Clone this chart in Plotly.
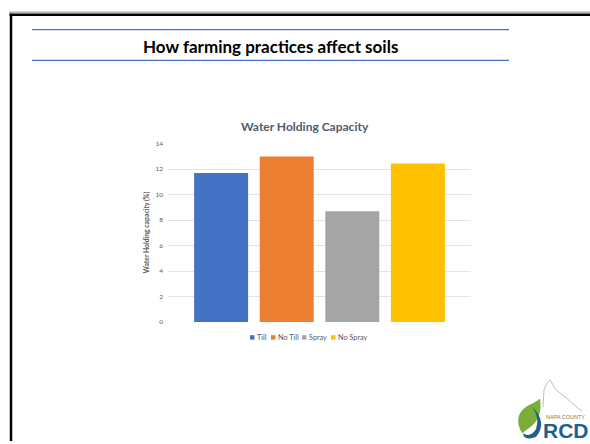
import plotly.graph_objects as go

# Water holding capacity (%) by farming practice
practices = ["Till", "No Till", "Spray", "No Spray"]
capacity = [11.7, 13.0, 8.7, 12.45]
colors = ["#4472C4", "#ED7D31", "#A5A5A5", "#FFC000"]
category = ["Water Holding Capacity"]
y_ticks = [0, 2, 4, 6, 8, 10, 12, 14]

W, H = 590, 444


def px(x):
    return x / W


def py(y):
    return 1 - y / H


fig = go.Figure()
for name, val, col in zip(practices, capacity, colors):
    fig.add_trace(go.Bar(x=category, y=[val], name=name, marker_color=col,
                         marker_line_width=0, showlegend=False))

grey = "#595959"
fig.update_layout(
    width=W, height=H, autosize=False,
    margin=dict(l=0, r=0, t=0, b=0),
    paper_bgcolor="white", plot_bgcolor="white",
    barmode="group", bargap=0.134, bargroupgap=0.177,
    font=dict(family="Lato, sans-serif", color=grey),
    xaxis=dict(domain=[px(168), px(471)], showticklabels=False, showgrid=False,
               zeroline=False, showline=False, fixedrange=True),
    yaxis=dict(domain=[py(323), py(142)], range=[0, 14], tickvals=y_ticks,
               ticktext=[str(t) for t in y_ticks],
               tickfont=dict(size=6.5, color=grey), ticklabelstandoff=4,
               showgrid=True, gridcolor="#E4E4E4", gridwidth=1,
               zeroline=False, showline=False, ticks=""),
)

shapes = []
# slide frame
shapes.append(dict(type="line", xref="paper", yref="paper",
                   x0=px(9), x1=px(590), y0=py(8.3), y1=py(8.3),
                   line=dict(color="#8a8a8a", width=1)))
shapes.append(dict(type="line", xref="paper", yref="paper",
                   x0=px(9.5), x1=px(590), y0=py(11), y1=py(11),
                   line=dict(color="black", width=2.5)))
shapes.append(dict(type="line", xref="paper", yref="paper",
                   x0=px(11), x1=px(11), y0=py(10), y1=py(444),
                   line=dict(color="black", width=2.5)))
# header rules
for yy in (26, 57.3):
    shapes.append(dict(type="line", xref="paper", yref="paper",
                       x0=px(32), x1=px(509), y0=py(yy), y1=py(yy),
                       line=dict(color="#4472C4", width=1.2)))

annotations = [
    dict(text="<b>How farming practices affect soils</b>", x=px(270), y=py(43),
         xref="paper", yref="paper", showarrow=False, xanchor="center", yanchor="middle",
         font=dict(size=17, color="black", family="Lato, sans-serif")),
    dict(text="<b>Water Holding Capacity</b>", x=px(305), y=py(124),
         xref="paper", yref="paper", showarrow=False, xanchor="center", yanchor="middle",
         font=dict(size=12, color="#505A6B")),
    dict(text="<b>Water Holding capacity (%)</b>", x=px(146), y=py(232),
         xref="paper", yref="paper", showarrow=False, textangle=-90,
         xanchor="center", yanchor="middle", font=dict(size=6.8, color=grey)),
]

# legend drawn as small swatches with labels
leg_x = [250, 271, 302, 331]
for name, col, lx in zip(practices, colors, leg_x):
    shapes.append(dict(type="rect", xref="paper", yref="paper",
                       x0=px(lx), x1=px(lx + 4.5), y0=py(341), y1=py(336.5),
                       fillcolor=col, line=dict(width=0)))
    annotations.append(dict(text=name, x=px(lx + 5), y=py(338.8), xref="paper", yref="paper",
                            showarrow=False, xanchor="left", yanchor="middle",
                            font=dict(size=7.3, color=grey)))

# logo: county outline, leaf, swirl and lettering
shapes.append(dict(type="path", xref="paper", yref="paper",
                   path=" ".join([
                       f"M {px(543)} {py(410)}", f"L {px(544)} {py(392)}",
                       f"L {px(547)} {py(385)}", f"L {px(550)} {py(382)}",
                       f"L {px(556)} {py(392)}", f"L {px(566)} {py(400)}",
                       f"L {px(575)} {py(408)}", f"L {px(582)} {py(414)}"]),
                   line=dict(color="#BFBFBF", width=1)))
shapes.append(dict(type="path", xref="paper", yref="paper",
                   path=(f"M {px(522)} {py(436)} Q {px(512)} {py(418)} {px(528)} {py(408)} "
                         f"Q {px(536)} {py(404)} {px(540)} {py(401)} "
                         f"Q {px(543)} {py(420)} {px(530)} {py(430)} Z"),
                   fillcolor="#7AAE3B", line=dict(width=0)))
shapes.append(dict(type="path", xref="paper", yref="paper",
                   path=(f"M {px(532)} {py(409)} Q {px(548)} {py(425)} {px(536)} {py(440)} "
                         f"Q {px(524)} {py(444)} {px(523)} {py(436)} "
                         f"Q {px(530)} {py(441)} {px(536)} {py(432)} "
                         f"Q {px(540)} {py(420)} {px(532)} {py(409)} Z"),
                   fillcolor="#1F5F8B", line=dict(width=0)))
annotations.append(dict(text="NAPA COUNTY", x=px(544), y=py(419.5), xref="paper", yref="paper",
                        showarrow=False, xanchor="left", yanchor="middle",
                        font=dict(size=5.5, color="#8C7A3A", family="Liberation Sans Narrow, sans-serif")))
annotations.append(dict(text="<b>RCD</b>", x=px(541), y=py(433), xref="paper", yref="paper",
                        showarrow=False, xanchor="left", yanchor="middle",
                        font=dict(size=21, color="#1F5F8B", family="Liberation Sans, sans-serif")))

fig.update_layout(shapes=shapes, annotations=annotations)
fig.write_html("out.html")
